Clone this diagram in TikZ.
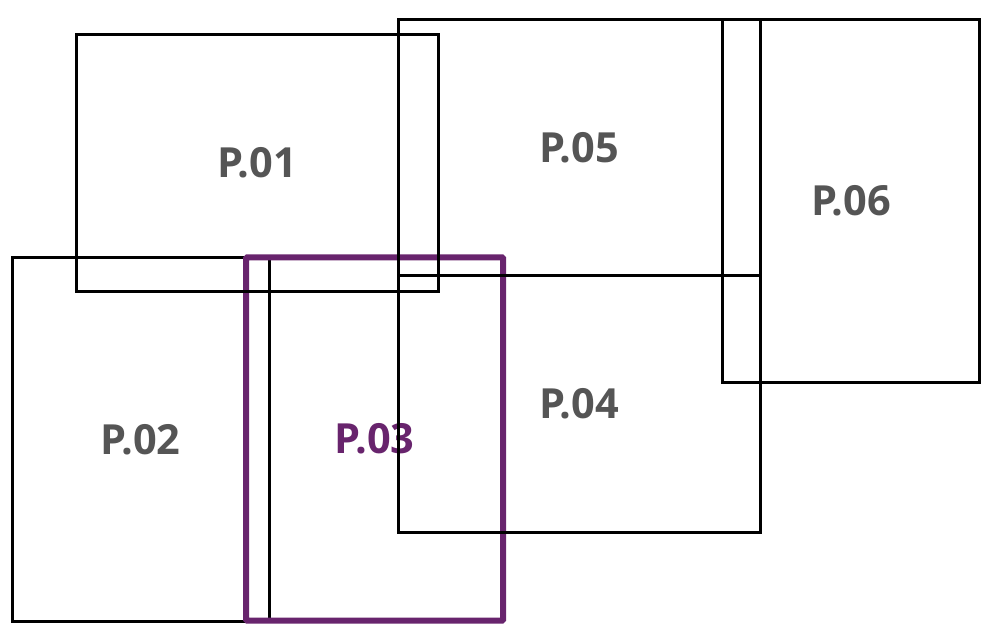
\documentclass[tikz,border=0pt]{standalone}
\usepackage{fontspec}
\setmainfont{Open Sans}
\definecolor{pagegray}{HTML}{555555}
\definecolor{pagepurple}{HTML}{68246D}
\tikzset{
    sheet/.style={draw=black, line width=3pt, inner sep=0pt, font=\fontsize{41.5}{44}\selectfont\bfseries, text=pagegray},
    landscape/.style={sheet, minimum width=362pt, minimum height=256pt},
    portrait/.style={sheet, minimum width=257pt, minimum height=363pt},
    current/.style={draw=pagepurple, line width=6pt, text=pagepurple, rounded corners=1pt}
}
\begin{document}
\begin{tikzpicture}[x=1pt,y=-1pt]
        \useasboundingbox (0,0) rectangle (982,628);
        \node[portrait] (p02) at (140.5,439.5) {P.02};
        \node[portrait, current] (p03) at (374.5,439) {P.03};
        \node[landscape] (p04) at (579,404) {P.04};
        \node[landscape] (p05) at (579,148) {P.05};
        \node[landscape] (p01) at (257,163) {P.01};
        \node[portrait] (p06) at (851,201) {P.06};
    \end{tikzpicture}
\end{document}
